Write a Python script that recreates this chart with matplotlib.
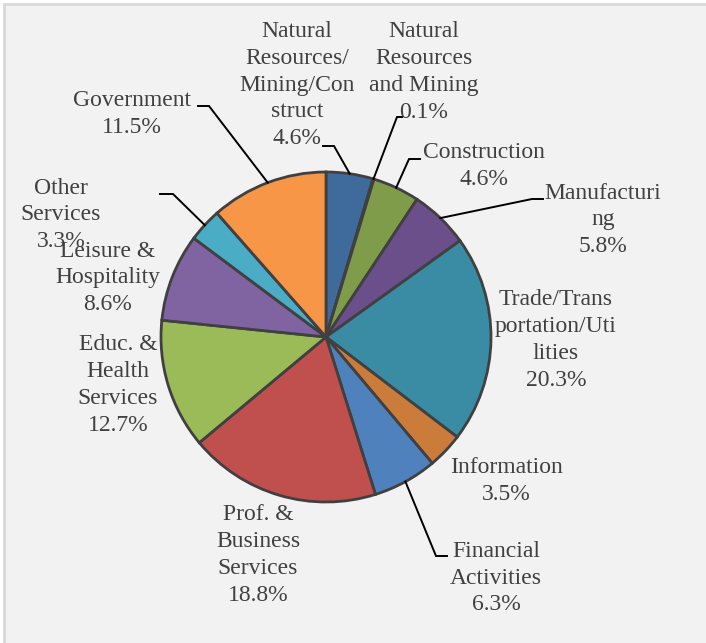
import numpy as np
import matplotlib.pyplot as plt
from matplotlib.patches import Rectangle

plt.rcParams['font.family'] = ['Liberation Serif', 'DejaVu Serif']

# industry shares (%), clockwise from 12 o'clock
sectors = ["Natural\nResources/\nMining/Con\nstruct",
           "Natural\nResources\nand Mining",
           "Construction",
           "Manufacturi\nng",
           "Trade/Trans\nportation/Uti\nlities",
           "Information",
           "Financial\nActivities",
           "Prof. &\nBusiness\nServices",
           "Educ. &\nHealth\nServices",
           "Leisure &\nHospitality",
           "Other\nServices",
           "Government"]
shares = [4.6, 0.1, 4.6, 5.8, 20.3, 3.5, 6.3, 18.8, 12.7, 8.6, 3.3, 11.5]
colors = ["#3f6a9c", "#9e413e", "#7f9c4a", "#6a4f8a", "#3a8ca4", "#cc7c3a",
          "#4f81bd", "#c0504d", "#9bbb59", "#8064a2", "#4bacc6", "#f79646"]

# label block centres (pixels) and leader elbows (None = no leader)
label_pos = [(297, 85), (424, 72), (484, 166), (603, 220), (556, 340), (506, 481),
             (496, 578), (258, 555), (118, 385), (108, 278), (61, 215), (132, 114)]
elbows = [((334, 146), (323, 146)), ((397, 117), (402, 117)), ((409, 159), (420, 159)),
          ((532, 199), (543, 199)), None, None, ((436, 556), (447, 556)),
          None, None, None, ((173, 194), (160, 194)), ((209, 106), (198, 106))]

cx, cy, r = 326, 337, 165

fig = plt.figure(figsize=(7.06, 6.43), dpi=100)
fig.patch.set_facecolor("white")
ax = fig.add_axes([0, 0, 1, 1])

ax.add_patch(Rectangle((4, 4), 720, 660, facecolor="#f2f2f2",
                       edgecolor="#d9d9d9", linewidth=2, zorder=0))

ax.pie(shares, colors=colors, startangle=-90, counterclock=True,
       center=(cx, cy), radius=r,
       wedgeprops=dict(edgecolor="#404040", linewidth=2))

ax.set_xlim(0, 706)
ax.set_ylim(643, 0)
ax.set_aspect("equal")
ax.axis("off")

total = sum(shares)
cum = np.cumsum([0] + shares)
for i, (name, val) in enumerate(zip(sectors, shares)):
    txt = name + "\n%.1f%%" % val
    x, y = label_pos[i]
    ax.text(x, y, txt, ha="center", va="center", multialignment="center",
            fontsize=17, color="#404040", linespacing=1.36, zorder=5)
    if elbows[i] is not None:
        mid = (cum[i] + val / 2) / total * 2 * np.pi
        px = cx + r * np.sin(mid)
        py = cy - r * np.cos(mid)
        (ex, ey), (hx, hy) = elbows[i]
        ax.plot([px, ex, hx], [py, ey, hy], color="black", linewidth=1.4,
                solid_joinstyle="miter", zorder=4)

plt.savefig("out.png", dpi=100)
